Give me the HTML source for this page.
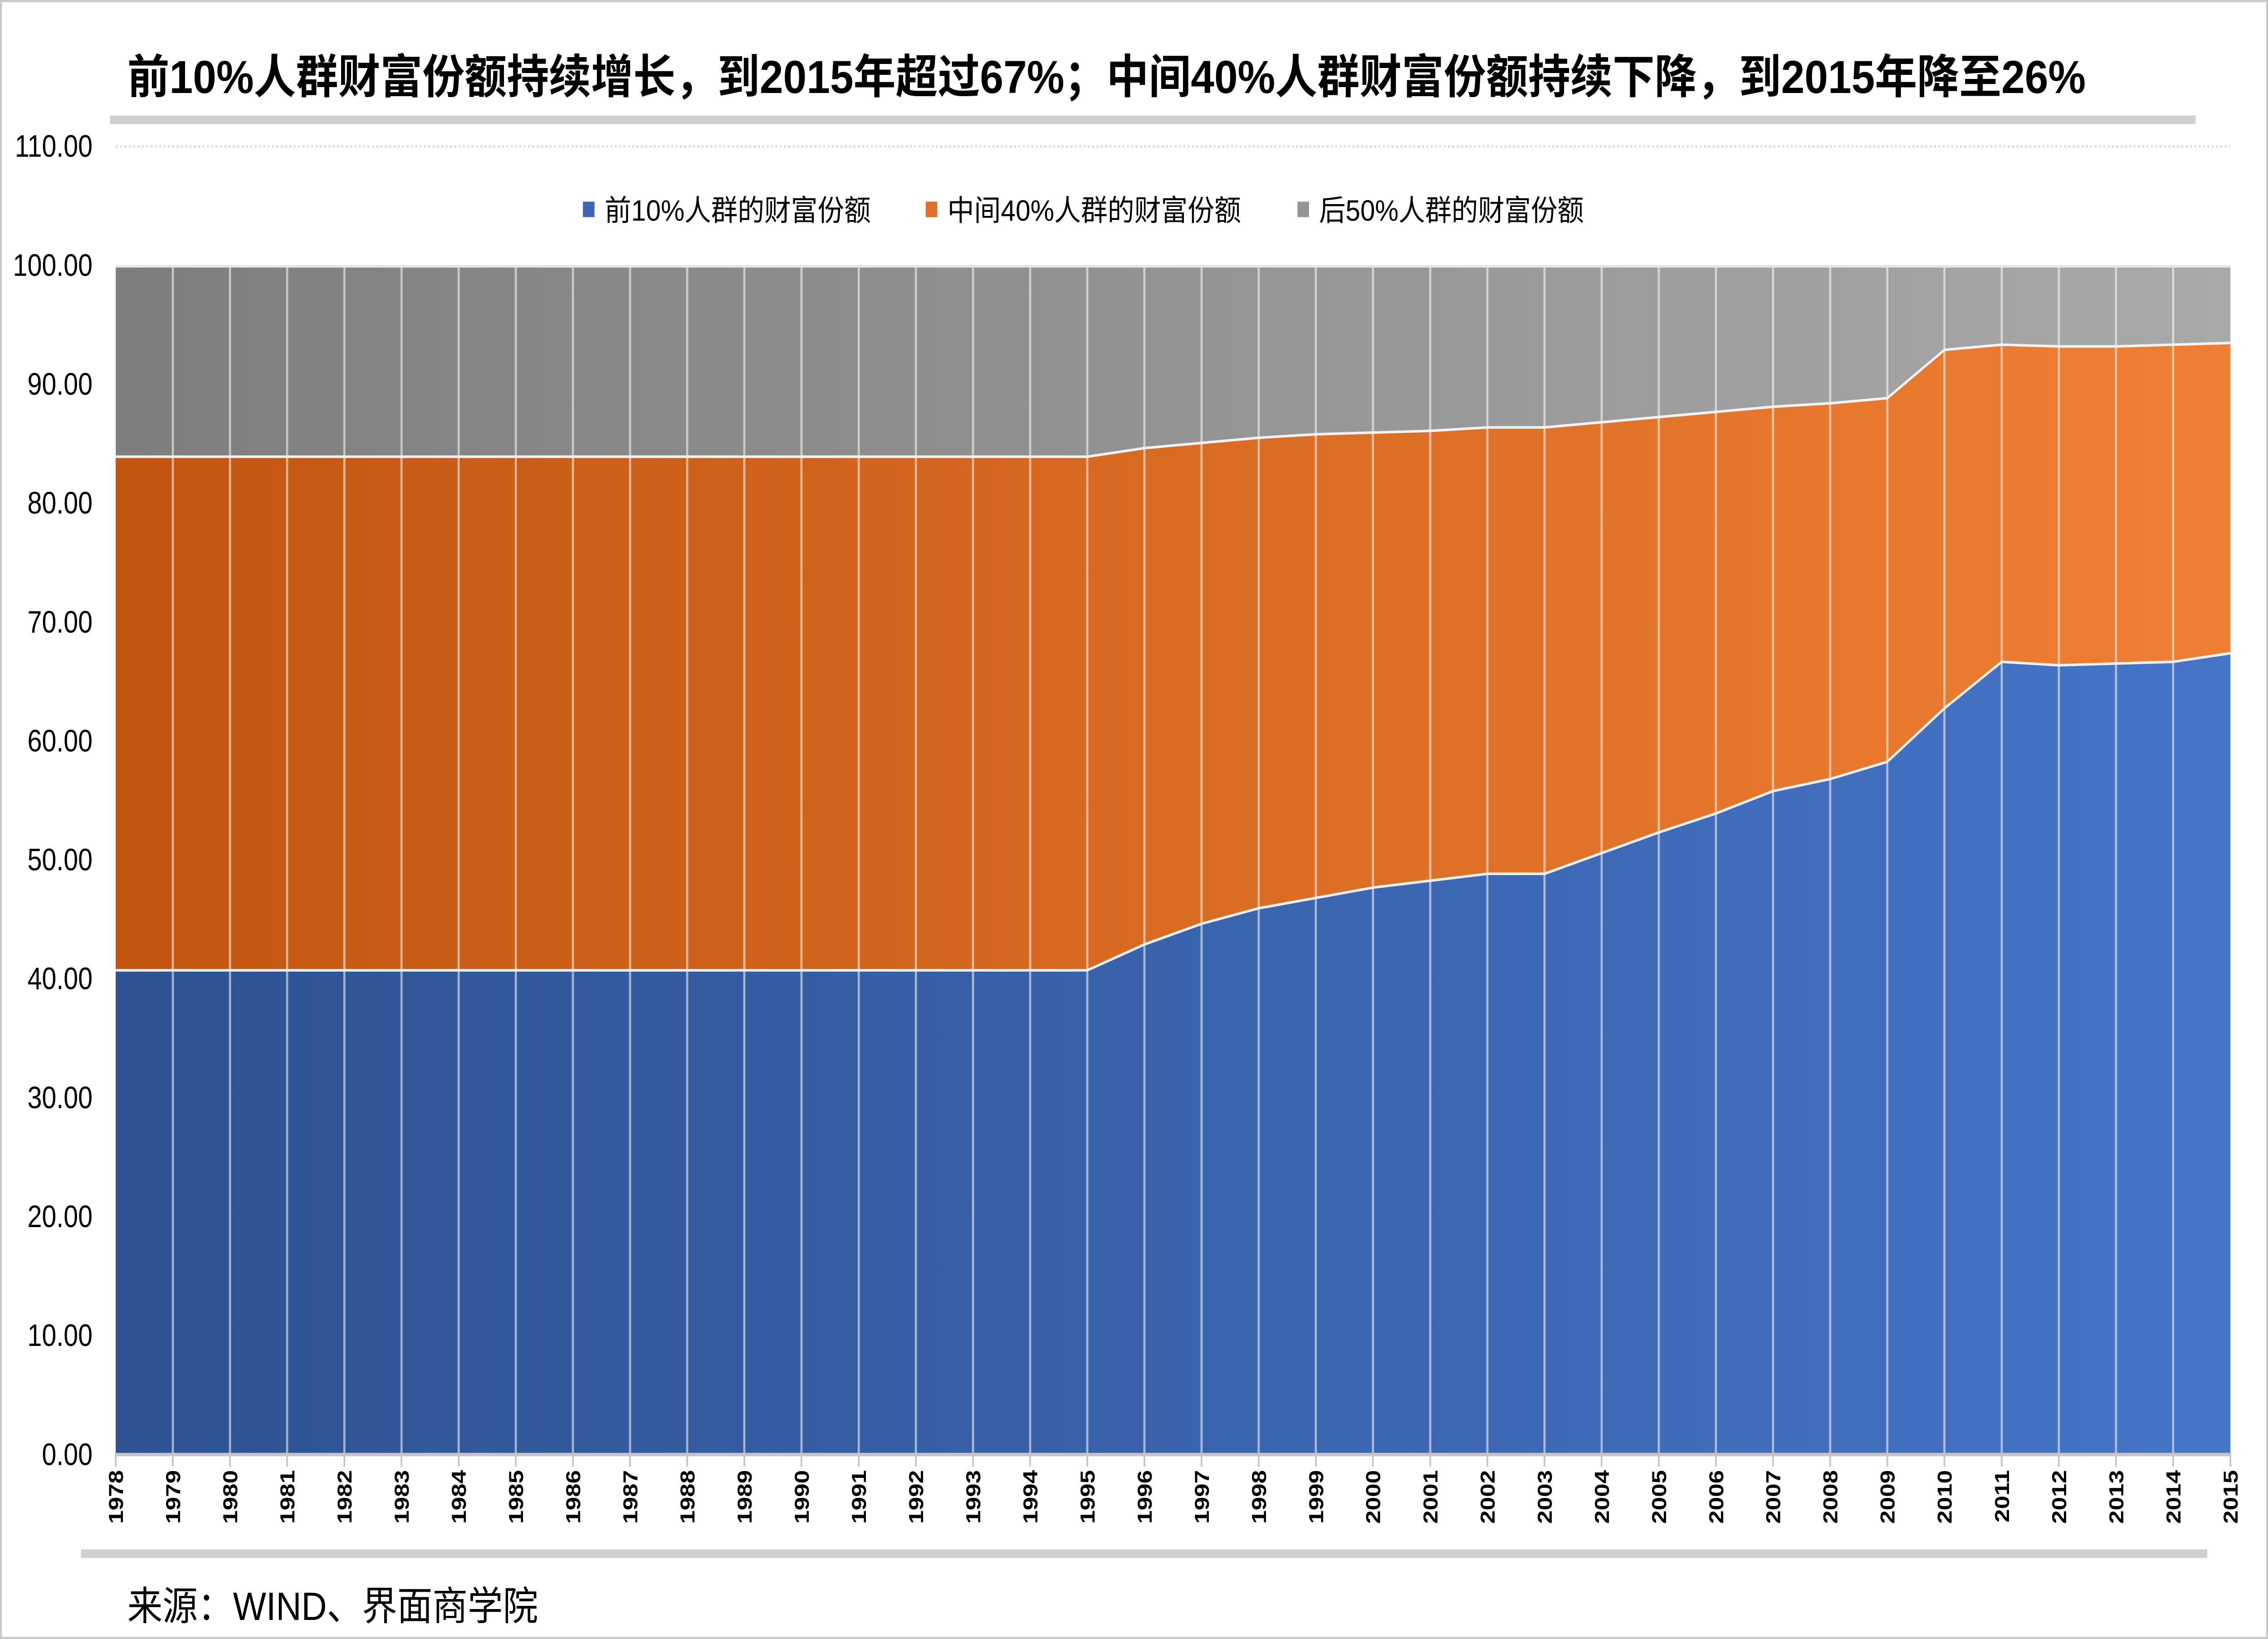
<!DOCTYPE html>
<html><head><meta charset="utf-8"><style>
html,body{margin:0;padding:0;background:#fff;overflow:hidden;width:100%;height:100%;}
svg{display:block;width:100vw;height:100vh;}
</style></head><body>
<svg viewBox="0 0 1568 951" preserveAspectRatio="none" xmlns="http://www.w3.org/2000/svg">
<defs>
<linearGradient id="gb" gradientUnits="userSpaceOnUse" x1="80" y1="0" x2="1542" y2="0"><stop offset="0" stop-color="#2e5292"/><stop offset="1" stop-color="#4674c7"/></linearGradient>
<linearGradient id="go" gradientUnits="userSpaceOnUse" x1="80" y1="0" x2="1542" y2="0"><stop offset="0" stop-color="#c25611"/><stop offset="1" stop-color="#ef7f34"/></linearGradient>
<linearGradient id="gg" gradientUnits="userSpaceOnUse" x1="80" y1="0" x2="1542" y2="0"><stop offset="0" stop-color="#7e7e7e"/><stop offset="1" stop-color="#a9a9a9"/></linearGradient>
</defs>
<rect x="0.5" y="0.5" width="1567" height="950" fill="#fff" stroke="#c8c8c8" stroke-width="1.5"/>
<text x="88" y="54" font-family="'Liberation Sans','Noto Sans CJK SC',sans-serif" font-weight="bold" font-size="27" textLength="1354" lengthAdjust="spacingAndGlyphs" fill="#000">前10%人群财富份额持续增长，到2015年超过67%；中间40%人群财富份额持续下降，到2015年降至26%</text>
<rect x="76" y="67" width="1442" height="5" fill="#d0d0d0"/>
<line x1="80" y1="85" x2="1542" y2="85" stroke="#e0e0e0" stroke-width="1.5" stroke-dasharray="1.5,1.5"/>
<g font-family="'Liberation Sans','Noto Sans CJK SC',sans-serif" font-size="17" fill="#000">
<rect x="403" y="117" width="8" height="9" fill="#3d67b5"/><text x="418" y="128" textLength="184" lengthAdjust="spacingAndGlyphs">前10%人群的财富份额</text>
<rect x="640" y="117" width="8" height="9" fill="#e0702a"/><text x="655" y="128" textLength="203" lengthAdjust="spacingAndGlyphs">中间40%人群的财富份额</text>
<rect x="897" y="117" width="8" height="9" fill="#959595"/><text x="912" y="128" textLength="183" lengthAdjust="spacingAndGlyphs">后50%人群的财富份额</text>
</g>
<rect x="80" y="154" width="1462" height="689" fill="url(#gg)"/>
<polygon fill="url(#go)" points="80,843 80,265 119.5,265 159,265 198.5,265 238.1,265 277.6,265 317.1,265 356.6,265 396.1,265 435.6,265 475.1,265 514.6,265 554.1,265 593.7,265 633.2,265 672.7,265 712.2,265 751.7,265 791.2,260 830.7,257 870.2,254 909.7,252 949.2,251 988.8,250 1028.3,248 1067.8,248 1107.3,245 1146.8,242 1186.3,239 1225.8,236 1265.3,234 1304.8,231 1344.3,203 1383.9,200 1423.4,201 1462.9,201 1502.4,200 1542,199 1542,843"/>
<polygon fill="url(#gb)" points="80,843 80,563 751.7,563 791.2,548 830.7,536 870.2,527 909.7,521 949.2,515 988.8,511 1028.3,507 1067.8,507 1107.3,495 1146.8,483 1186.3,472 1225.8,459 1265.3,452 1304.8,442 1344.3,411 1383.9,384 1423.4,386 1462.9,385 1502.4,384 1542,379 1542,843"/>
<g stroke="#ffffff" stroke-opacity="0.55" stroke-width="1.5">
<line x1="119.5" y1="154" x2="119.5" y2="843"/><line x1="159" y1="154" x2="159" y2="843"/><line x1="198.5" y1="154" x2="198.5" y2="843"/><line x1="238.1" y1="154" x2="238.1" y2="843"/><line x1="277.6" y1="154" x2="277.6" y2="843"/><line x1="317.1" y1="154" x2="317.1" y2="843"/><line x1="356.6" y1="154" x2="356.6" y2="843"/><line x1="396.1" y1="154" x2="396.1" y2="843"/><line x1="435.6" y1="154" x2="435.6" y2="843"/><line x1="475.1" y1="154" x2="475.1" y2="843"/><line x1="514.6" y1="154" x2="514.6" y2="843"/><line x1="554.1" y1="154" x2="554.1" y2="843"/><line x1="593.7" y1="154" x2="593.7" y2="843"/><line x1="633.2" y1="154" x2="633.2" y2="843"/><line x1="672.7" y1="154" x2="672.7" y2="843"/><line x1="712.2" y1="154" x2="712.2" y2="843"/><line x1="751.7" y1="154" x2="751.7" y2="843"/><line x1="791.2" y1="154" x2="791.2" y2="843"/><line x1="830.7" y1="154" x2="830.7" y2="843"/><line x1="870.2" y1="154" x2="870.2" y2="843"/><line x1="909.7" y1="154" x2="909.7" y2="843"/><line x1="949.2" y1="154" x2="949.2" y2="843"/><line x1="988.8" y1="154" x2="988.8" y2="843"/><line x1="1028.3" y1="154" x2="1028.3" y2="843"/><line x1="1067.8" y1="154" x2="1067.8" y2="843"/><line x1="1107.3" y1="154" x2="1107.3" y2="843"/><line x1="1146.8" y1="154" x2="1146.8" y2="843"/><line x1="1186.3" y1="154" x2="1186.3" y2="843"/><line x1="1225.8" y1="154" x2="1225.8" y2="843"/><line x1="1265.3" y1="154" x2="1265.3" y2="843"/><line x1="1304.8" y1="154" x2="1304.8" y2="843"/><line x1="1344.3" y1="154" x2="1344.3" y2="843"/><line x1="1383.9" y1="154" x2="1383.9" y2="843"/><line x1="1423.4" y1="154" x2="1423.4" y2="843"/><line x1="1462.9" y1="154" x2="1462.9" y2="843"/><line x1="1502.4" y1="154" x2="1502.4" y2="843"/>
</g>
<g fill="none" stroke="#f2f2f2" stroke-width="1.5">
<polyline points="80,265 751.7,265 791.2,260 830.7,257 870.2,254 909.7,252 949.2,251 988.8,250 1028.3,248 1067.8,248 1107.3,245 1146.8,242 1186.3,239 1225.8,236 1265.3,234 1304.8,231 1344.3,203 1383.9,200 1423.4,201 1462.9,201 1502.4,200 1542,199"/>
<polyline points="80,563 751.7,563 791.2,548 830.7,536 870.2,527 909.7,521 949.2,515 988.8,511 1028.3,507 1067.8,507 1107.3,495 1146.8,483 1186.3,472 1225.8,459 1265.3,452 1304.8,442 1344.3,411 1383.9,384 1423.4,386 1462.9,385 1502.4,384 1542,379"/>
<line x1="80" y1="154.5" x2="1542" y2="154.5" stroke="#e6e6e6"/>
</g>
<line x1="80" y1="844" x2="1542" y2="844" stroke="#c6c6c6" stroke-width="2"/>
<g stroke="#c6c6c6" stroke-width="1.2">
<line x1="80" y1="843" x2="80" y2="851"/><line x1="119.5" y1="843" x2="119.5" y2="851"/><line x1="159" y1="843" x2="159" y2="851"/><line x1="198.5" y1="843" x2="198.5" y2="851"/><line x1="238.1" y1="843" x2="238.1" y2="851"/><line x1="277.6" y1="843" x2="277.6" y2="851"/><line x1="317.1" y1="843" x2="317.1" y2="851"/><line x1="356.6" y1="843" x2="356.6" y2="851"/><line x1="396.1" y1="843" x2="396.1" y2="851"/><line x1="435.6" y1="843" x2="435.6" y2="851"/><line x1="475.1" y1="843" x2="475.1" y2="851"/><line x1="514.6" y1="843" x2="514.6" y2="851"/><line x1="554.1" y1="843" x2="554.1" y2="851"/><line x1="593.7" y1="843" x2="593.7" y2="851"/><line x1="633.2" y1="843" x2="633.2" y2="851"/><line x1="672.7" y1="843" x2="672.7" y2="851"/><line x1="712.2" y1="843" x2="712.2" y2="851"/><line x1="751.7" y1="843" x2="751.7" y2="851"/><line x1="791.2" y1="843" x2="791.2" y2="851"/><line x1="830.7" y1="843" x2="830.7" y2="851"/><line x1="870.2" y1="843" x2="870.2" y2="851"/><line x1="909.7" y1="843" x2="909.7" y2="851"/><line x1="949.2" y1="843" x2="949.2" y2="851"/><line x1="988.8" y1="843" x2="988.8" y2="851"/><line x1="1028.3" y1="843" x2="1028.3" y2="851"/><line x1="1067.8" y1="843" x2="1067.8" y2="851"/><line x1="1107.3" y1="843" x2="1107.3" y2="851"/><line x1="1146.8" y1="843" x2="1146.8" y2="851"/><line x1="1186.3" y1="843" x2="1186.3" y2="851"/><line x1="1225.8" y1="843" x2="1225.8" y2="851"/><line x1="1265.3" y1="843" x2="1265.3" y2="851"/><line x1="1304.8" y1="843" x2="1304.8" y2="851"/><line x1="1344.3" y1="843" x2="1344.3" y2="851"/><line x1="1383.9" y1="843" x2="1383.9" y2="851"/><line x1="1423.4" y1="843" x2="1423.4" y2="851"/><line x1="1462.9" y1="843" x2="1462.9" y2="851"/><line x1="1502.4" y1="843" x2="1502.4" y2="851"/><line x1="1542" y1="843" x2="1542" y2="851"/>
</g>
<g font-family="'Liberation Sans Narrow','Liberation Sans',sans-serif" font-size="18" fill="#000" text-anchor="end">
<text x="64" y="850">0.00</text><text x="64" y="781">10.00</text><text x="64" y="712">20.00</text><text x="64" y="643">30.00</text><text x="64" y="574">40.00</text><text x="64" y="505">50.00</text><text x="64" y="436">60.00</text><text x="64" y="367">70.00</text><text x="64" y="298">80.00</text><text x="64" y="229">90.00</text><text x="64" y="160">100.00</text><text x="64" y="91">110.00</text>
</g>
<g font-family="'Liberation Sans',sans-serif" font-size="14" font-weight="bold" fill="#000" text-anchor="end">
<text transform="translate(85,853) rotate(-90)">1978</text><text transform="translate(124.5,853) rotate(-90)">1979</text><text transform="translate(164,853) rotate(-90)">1980</text><text transform="translate(203.5,853) rotate(-90)">1981</text><text transform="translate(243.1,853) rotate(-90)">1982</text><text transform="translate(282.6,853) rotate(-90)">1983</text><text transform="translate(322.1,853) rotate(-90)">1984</text><text transform="translate(361.6,853) rotate(-90)">1985</text><text transform="translate(401.1,853) rotate(-90)">1986</text><text transform="translate(440.6,853) rotate(-90)">1987</text><text transform="translate(480.1,853) rotate(-90)">1988</text><text transform="translate(519.6,853) rotate(-90)">1989</text><text transform="translate(559.1,853) rotate(-90)">1990</text><text transform="translate(598.7,853) rotate(-90)">1991</text><text transform="translate(638.2,853) rotate(-90)">1992</text><text transform="translate(677.7,853) rotate(-90)">1993</text><text transform="translate(717.2,853) rotate(-90)">1994</text><text transform="translate(756.7,853) rotate(-90)">1995</text><text transform="translate(796.2,853) rotate(-90)">1996</text><text transform="translate(835.7,853) rotate(-90)">1997</text><text transform="translate(875.2,853) rotate(-90)">1998</text><text transform="translate(914.7,853) rotate(-90)">1999</text><text transform="translate(954.2,853) rotate(-90)">2000</text><text transform="translate(993.8,853) rotate(-90)">2001</text><text transform="translate(1033.3,853) rotate(-90)">2002</text><text transform="translate(1072.8,853) rotate(-90)">2003</text><text transform="translate(1112.3,853) rotate(-90)">2004</text><text transform="translate(1151.8,853) rotate(-90)">2005</text><text transform="translate(1191.3,853) rotate(-90)">2006</text><text transform="translate(1230.8,853) rotate(-90)">2007</text><text transform="translate(1270.3,853) rotate(-90)">2008</text><text transform="translate(1309.8,853) rotate(-90)">2009</text><text transform="translate(1349.3,853) rotate(-90)">2010</text><text transform="translate(1388.9,853) rotate(-90)">2011</text><text transform="translate(1428.4,853) rotate(-90)">2012</text><text transform="translate(1467.9,853) rotate(-90)">2013</text><text transform="translate(1507.4,853) rotate(-90)">2014</text><text transform="translate(1547,853) rotate(-90)">2015</text>
</g>
<rect x="56" y="899" width="1470" height="5" fill="#d0d0d0"/>
<text x="88" y="940" font-family="'Liberation Sans','Noto Sans CJK SC',sans-serif" font-size="23" textLength="284" lengthAdjust="spacingAndGlyphs" fill="#000">来源：WIND、界面商学院</text>
</svg>
</body></html>
